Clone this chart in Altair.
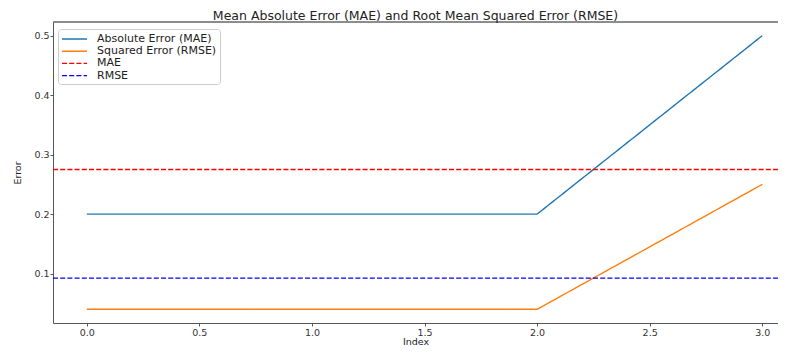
import altair as alt
import pandas as pd

index = [0, 1, 2, 3]
abs_err = [0.2, 0.2, 0.2, 0.5]
sq_err = [0.04, 0.04, 0.04, 0.25]
mae_value = 0.275
rmse_value = 0.0925

series = ["Absolute Error (MAE)", "Squared Error (RMSE)", "MAE", "RMSE"]
colors = ["#1f77b4", "#ff7f0e", "#ff0000", "#0000ff"]
dashes = [[5, 0], [5, 0], [5, 2.2], [5, 2.2]]

lines = pd.DataFrame(
    [{"Index": i, "Error": v, "series": series[0]} for i, v in zip(index, abs_err)]
    + [{"Index": i, "Error": v, "series": series[1]} for i, v in zip(index, sq_err)]
)
rules = pd.DataFrame([
    {"Error": mae_value, "series": series[2]},
    {"Error": rmse_value, "series": series[3]},
])

legend = alt.Legend(
    title=None, orient="none", legendX=5, legendY=7,
    symbolType="M-1,0H3.17", symbolSize=144, symbolStrokeWidth=1.4,
    labelFont="DejaVu Sans", labelFontSize=11, labelColor="#222",
    rowPadding=0.2, padding=3, labelOffset=22, fillColor="white",
    strokeColor="#cccccc", cornerRadius=3,
)
color = alt.Color("series:N", scale=alt.Scale(domain=series, range=colors), legend=legend)
dash = alt.StrokeDash("series:N", scale=alt.Scale(domain=series, range=dashes), legend=legend)

x = alt.X(
    "Index:Q",
    scale=alt.Scale(domain=[-0.15, 3.07], nice=False, zero=False),
    axis=alt.Axis(values=[0, 0.5, 1, 1.5, 2, 2.5, 3], format=".1f", title="Index"),
)
y = alt.Y(
    "Error:Q",
    scale=alt.Scale(domain=[0.017, 0.523], nice=False, zero=False),
    axis=alt.Axis(values=[0.1, 0.2, 0.3, 0.4, 0.5], format=".1f", title="Error"),
)

top_spine = alt.Chart(rules).mark_rule(color="#666", strokeWidth=1).encode(
    y=alt.value(0)
)
line_layer = alt.Chart(lines).mark_line(strokeWidth=1.4).encode(
    x=x, y=y, color=color, strokeDash=dash
)
rule_layer = alt.Chart(rules).mark_rule(strokeWidth=1.4).encode(
    y="Error:Q", color=color, strokeDash=dash
)

chart = alt.layer(top_spine, line_layer, rule_layer).properties(
    width=725,
    height=301,
    title=alt.Title(
        "Mean Absolute Error (MAE) and Root Mean Squared Error (RMSE)",
        font="DejaVu Sans", fontSize=12.5, fontWeight="normal", color="#222",
        anchor="middle", offset=2, dy=2.5,
    ),
    autosize=alt.AutoSizeParams(type="none"),
    padding={"left": 45, "top": 14, "right": 0, "bottom": 24},
).configure_view(
    stroke=None
).configure_axis(
    grid=False,
    domainColor="#555",
    tickColor="#555",
    tickSize=3,
    labelFont="DejaVu Sans",
    labelFontSize=9.5,
    labelColor="#333",
    titleFont="DejaVu Sans",
    titleFontSize=9.5,
    titleFontWeight="normal",
    titleColor="#222",
    labelPadding=1,
).configure_axisX(
    titlePadding=0,
).configure_axisY(
    titlePadding=11,
)

chart.save("out.html", embed_options={"renderer": "svg", "actions": False})
